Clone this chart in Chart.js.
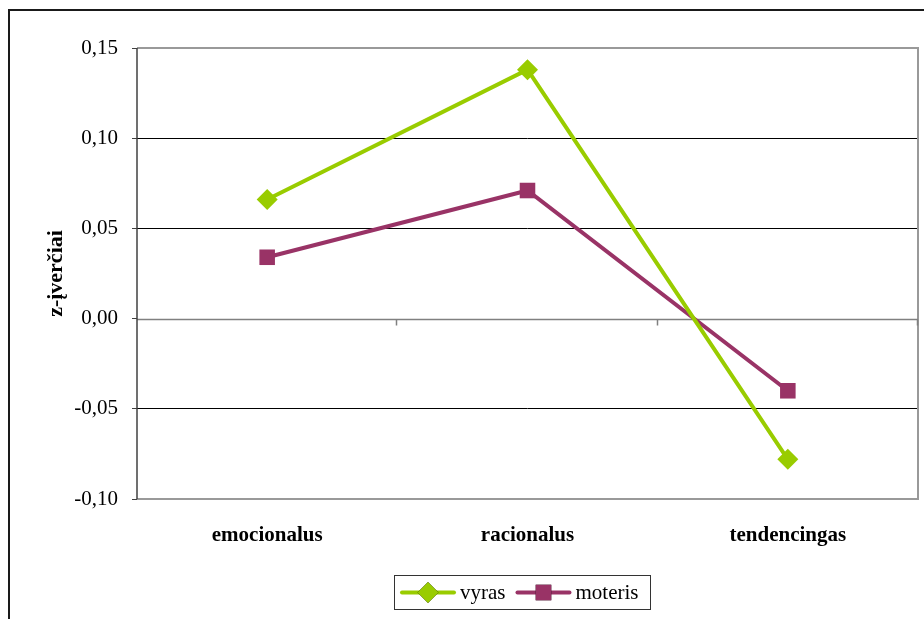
<!DOCTYPE html>
<html>
<head>
<meta charset="utf-8">
<script src="https://cdn.jsdelivr.net/npm/chart.js@4/dist/chart.umd.min.js"></script>
<style>
  html, body { margin: 0; padding: 0; background: #fff; }
  #wrap { width: 924px; height: 619px; }
</style>
</head>
<body>
<div id="wrap"><canvas id="c" width="924" height="619"></canvas></div>
<script>
const categories = ['emocionalus', 'racionalus', 'tendencingas'];
const vyras = [0.066, 0.138, -0.078];
const moteris = [0.034, 0.071, -0.040];
const yTicks = [-0.10, -0.05, 0.00, 0.05, 0.10, 0.15];
const yTitle = 'z-įverčiai';

const SERIF = '"Liberation Serif", "Times New Roman", serif';
const GREEN = '#99CC00';
const PURPLE = '#993366';

const fmt = v => v.toFixed(2).replace('.', ',');

// Frame, plot border, zero axis with category ticks, and legend box
const decor = {
  id: 'decor',
  beforeDraw(chart) {
    const ctx = chart.ctx;
    ctx.save();
    ctx.fillStyle = '#fff';
    ctx.fillRect(0, 0, chart.width, chart.height);
    ctx.restore();
  },
  beforeDatasetsDraw(chart) {
    const { ctx, chartArea: a, scales } = chart;
    const y0 = Math.round(scales.y.getPixelForValue(0)) + 0.5;
    ctx.save();
    // plot area border (top, right, bottom)
    ctx.strokeStyle = '#999999';
    ctx.lineWidth = 2;
    ctx.beginPath();
    ctx.moveTo(a.left, a.top);
    ctx.lineTo(a.right, a.top);
    ctx.lineTo(a.right, a.bottom);
    ctx.lineTo(a.left, a.bottom);
    ctx.stroke();
    // zero line with tick marks at category boundaries
    ctx.strokeStyle = '#808080';
    ctx.lineWidth = 1.5;
    ctx.beginPath();
    ctx.moveTo(a.left, y0);
    ctx.lineTo(a.right, y0);
    const n = categories.length;
    for (let i = 1; i <= n; i++) {
      const x = Math.round(a.left + (a.right - a.left) * i / n) - 0.5;
      ctx.moveTo(x, y0);
      ctx.lineTo(x, y0 + 6);
    }
    ctx.stroke();
    // left axis line
    ctx.strokeStyle = '#404040';
    ctx.lineWidth = 1.5;
    ctx.beginPath();
    ctx.moveTo(a.left, a.top);
    ctx.lineTo(a.left, a.bottom);
    ctx.stroke();
    ctx.restore();
  },
  afterDraw(chart) {
    const ctx = chart.ctx;
    ctx.save();
    // outer chart frame
    ctx.strokeStyle = '#1a1a1a';
    ctx.lineWidth = 2;
    ctx.strokeRect(9, 10, 2000, 2000);
    // legend
    const lx = 394, ly = 575, lw = 256, lh = 34;
    ctx.strokeStyle = '#333';
    ctx.lineWidth = 1;
    ctx.strokeRect(lx + 0.5, ly + 0.5, lw, lh);
    const cy = ly + lh / 2 + 0.5;
    const items = chart.data.datasets;
    let x = lx + 6;
    ctx.font = '21px ' + SERIF;
    ctx.textBaseline = 'middle';
    items.forEach(ds => {
      ctx.strokeStyle = ds.borderColor;
      ctx.lineWidth = 4;
      ctx.lineCap = 'round';
      ctx.beginPath();
      ctx.moveTo(x + 2, cy);
      ctx.lineTo(x + 54, cy);
      ctx.stroke();
      Chart.helpers.drawPoint(ctx, {
        pointStyle: ds.pointStyle, radius: ds.pointRadius, rotation: 0, borderWidth: 0
      }, x + 28, cy);
      ctx.fillStyle = ds.pointBackgroundColor;
      ctx.fill();
      ctx.fillStyle = '#000';
      ctx.fillText(ds.label, x + 60, cy + 1);
      x += 60 + ctx.measureText(ds.label).width + 10;
    });
    ctx.restore();
  }
};

new Chart(document.getElementById('c'), {
  type: 'line',
  data: {
    labels: categories,
    datasets: [
      {
        label: 'vyras', data: vyras,
        borderColor: GREEN, backgroundColor: GREEN,
        pointBackgroundColor: GREEN, pointBorderColor: GREEN,
        borderWidth: 4, pointStyle: 'rectRot', pointRadius: 10.5, pointBorderWidth: 0,
        tension: 0
      },
      {
        label: 'moteris', data: moteris,
        borderColor: PURPLE, backgroundColor: PURPLE,
        pointBackgroundColor: PURPLE, pointBorderColor: PURPLE,
        borderWidth: 4, pointStyle: 'rect', pointRadius: 11, pointBorderWidth: 0,
        tension: 0
      }
    ]
  },
  options: {
    responsive: false,
    animation: false,
    devicePixelRatio: 1,
    layout: { autoPadding: false, padding: { left: 0, top: 48, right: 6, bottom: 0 } },
    plugins: { legend: { display: false }, tooltip: { enabled: false } },
    scales: {
      x: {
        type: 'category',
        offset: true,
        grid: { display: false, drawTicks: false },
        border: { display: false },
        ticks: { color: '#000', padding: 24, font: { family: SERIF, size: 21, weight: 'bold' } },
        afterFit: s => { s.height = 120; s.paddingLeft = 0; s.paddingRight = 0; }
      },
      y: {
        min: -0.10, max: 0.15,
        afterBuildTicks: s => { s.ticks = yTicks.map(v => ({ value: v })); },
        grid: {
          color: c => (c.tick && (Math.abs(c.tick.value) < 1e-9 || c.tick.value > 0.149 || c.tick.value < -0.099)) ? 'rgba(0,0,0,0)' : '#000',
          lineWidth: 1,
          tickLength: 5,
          tickColor: '#404040'
        },
        border: { display: false },
        ticks: {
          color: '#000', padding: 14,
          font: { family: SERIF, size: 21 },
          callback: v => fmt(v)
        },
        title: {
          display: true, text: yTitle, color: '#000',
          font: { family: SERIF, size: 22, weight: 'bold' },
          padding: { top: 43, bottom: 0 }
        },
        afterFit: s => { s.width = 137; s.paddingTop = 0; s.paddingBottom = 0; }
      }
    }
  },
  plugins: [decor]
});
</script>
</body>
</html>
